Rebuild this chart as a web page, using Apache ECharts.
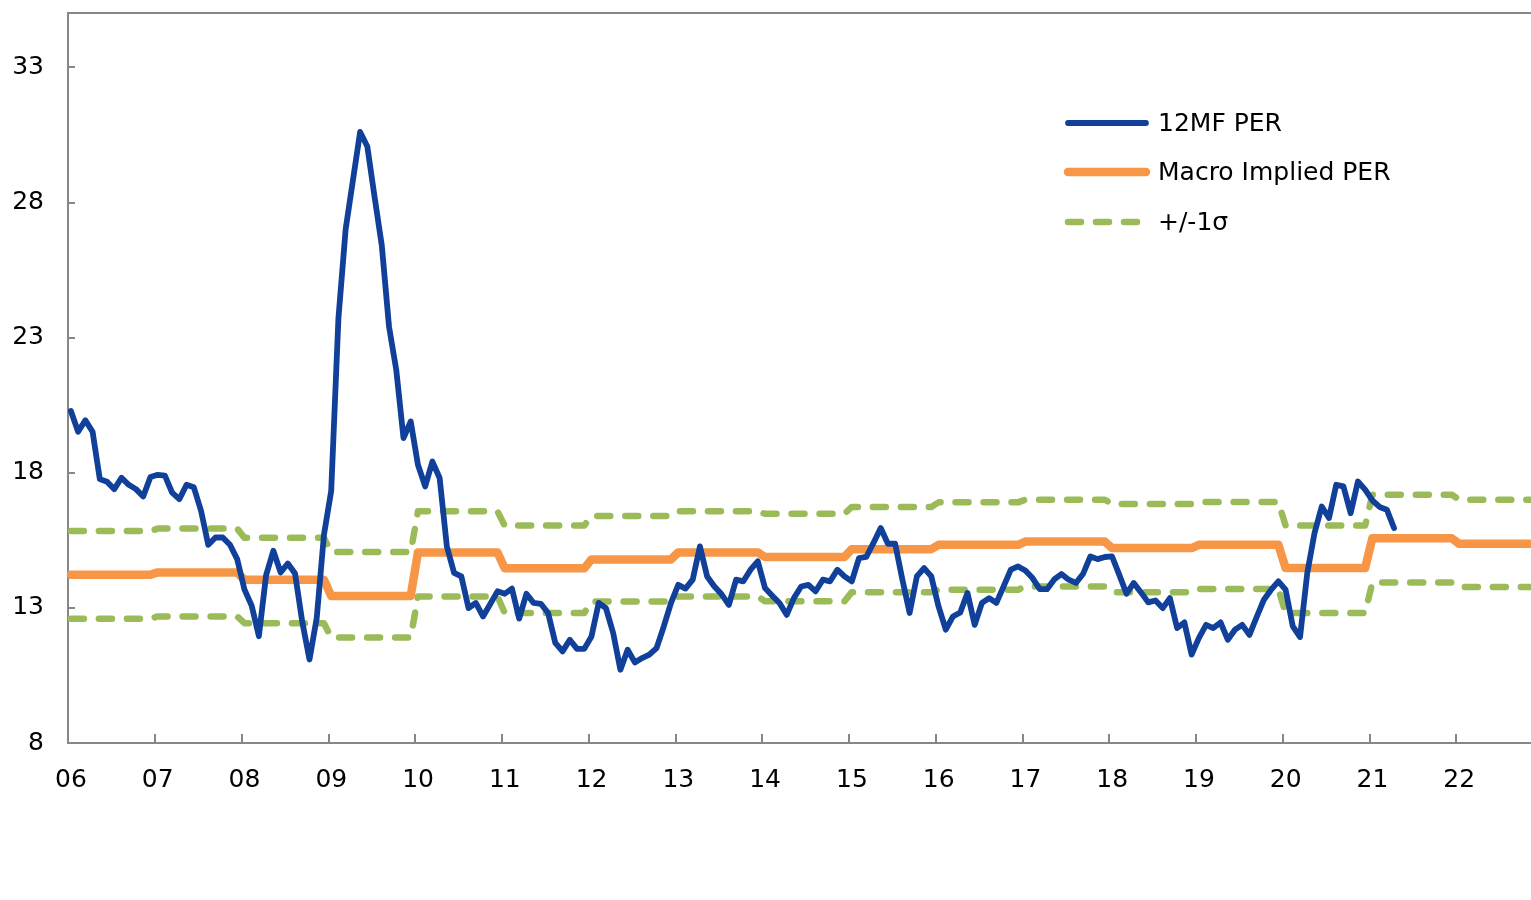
<!DOCTYPE html>
<html>
<head>
<meta charset="utf-8">
<title>12MF PER vs Macro Implied PER</title>
<script src="https://cdn.jsdelivr.net/npm/echarts@6/dist/echarts.min.js"></script>
<style>
  html, body { margin: 0; padding: 0; background: #ffffff; }
  #chart { width: 1531px; height: 900px; }
</style>
</head>
<body>
<div id="chart"></div>
<script>
// Monthly 12-month-forward PER, Jan 2006 onward
const perValues = [
  20.28, 19.51, 19.94, 19.51, 17.76, 17.66, 17.39, 17.81, 17.55, 17.39, 17.12, 17.84,
  17.92, 17.89, 17.26, 17.02, 17.55, 17.46, 16.59, 15.33, 15.60, 15.60, 15.33, 14.80,
  13.68, 13.08, 11.95, 14.21, 15.11, 14.31, 14.64, 14.27, 12.48, 11.09, 12.62, 15.70,
  17.32, 23.70, 27.00, 28.80, 30.60, 30.06, 28.20, 26.40, 23.40, 21.80, 19.28, 19.89,
  18.29, 17.49, 18.41, 17.80, 15.27, 14.29, 14.16, 12.99, 13.18, 12.68, 13.14, 13.61,
  13.52, 13.71, 12.60, 13.52, 13.18, 13.15, 12.81, 11.70, 11.39, 11.82, 11.48, 11.48,
  11.94, 13.18, 12.99, 12.07, 10.71, 11.45, 10.98, 11.14, 11.27, 11.51, 12.31, 13.18,
  13.85, 13.71, 14.04, 15.27, 14.16, 13.79, 13.50, 13.11, 14.04, 13.98, 14.41, 14.72,
  13.73, 13.45, 13.18, 12.74, 13.36, 13.79, 13.85, 13.61, 14.04, 13.98, 14.41, 14.16,
  13.98, 14.84, 14.88, 15.40, 15.95, 15.37, 15.37, 14.04, 12.81, 14.16, 14.47, 14.16,
  13.05, 12.19, 12.68, 12.83, 13.55, 12.37, 13.18, 13.36, 13.18, 13.79, 14.41, 14.53,
  14.38, 14.10, 13.69, 13.69, 14.05, 14.25, 14.04, 13.92, 14.26, 14.90, 14.80, 14.88,
  14.90, 14.22, 13.52, 13.92, 13.57, 13.20, 13.27, 12.99, 13.36, 12.25, 12.46, 11.27,
  11.88, 12.37, 12.25, 12.46, 11.82, 12.19, 12.37, 12.00, 12.66, 13.30, 13.67, 13.98,
  13.67, 12.31, 11.92, 14.29, 15.77, 16.75, 16.32, 17.55, 17.49, 16.50, 17.67, 17.37,
  16.97, 16.73, 16.63, 15.95
];

// Annual levels (held constant through each calendar year)
const years = [2006, 2007, 2008, 2009, 2010, 2011, 2012, 2013, 2014, 2015, 2016, 2017, 2018, 2019, 2020, 2021, 2022];
const macroImplied = [14.22, 14.31, 14.04, 13.44, 15.05, 14.46, 14.79, 15.05, 14.88, 15.17, 15.33, 15.45, 15.21, 15.33, 14.47, 15.57, 15.37];
const upperBand    = [15.84, 15.93, 15.59, 15.06, 16.57, 16.04, 16.40, 16.57, 16.48, 16.73, 16.90, 17.00, 16.84, 16.91, 16.04, 17.18, 17.00];
const lowerBand    = [12.60, 12.68, 12.43, 11.90, 13.42, 12.81, 13.23, 13.42, 13.24, 13.58, 13.67, 13.79, 13.58, 13.70, 12.81, 13.94, 13.77];

// Legend entries
const legendNames = ['12MF PER', 'Macro Implied PER', '+/-1σ'];

// Axis tick labels are the two-digit year
const yearLabel = v => String(v).slice(2);

const FONT = '"DejaVu Sans", Verdana, sans-serif';
const AXIS_GREY = '#878787';
const BLUE = '#10409A';
const ORANGE = '#F79646';
const GREEN = '#9BBB59';

// Position of month k (0 = Jan 2006) on the decimal-year axis
const monthX = k => 2006 + (k + 0.4) / 12;

const perData = perValues.map((v, k) => [monthX(k), v]);

// Each annual level spans January to December of its year
function annualSteps(levels) {
  const out = [];
  years.forEach((y, i) => {
    const k0 = (y - 2006) * 12;
    out.push([monthX(k0), levels[i]]);
    out.push([monthX(k0 + 11), levels[i]]);
  });
  return out;
}

const blueStyle = { color: BLUE, width: 5.8, cap: 'round', join: 'round' };
const orangeStyle = { color: ORANGE, width: 8.5, cap: 'round', join: 'round' };
const bandStyle = { color: GREEN, width: 6.5, type: [13, 15], cap: 'round', join: 'round' };

// Legend drawn as graphic elements: a line sample and a label per row
function legendRow(name, style, y) {
  return [
    {
      type: 'line',
      shape: { x1: 1068, y1: y, x2: style.type ? 1142 : 1146, y2: y },
      style: {
        stroke: style.color,
        lineWidth: style.width,
        lineCap: 'round',
        lineDash: style.type || null
      }
    },
    {
      type: 'text',
      x: 1158, y: y + 1,
      style: {
        text: name,
        fontFamily: FONT, fontSize: 25, fill: '#000000',
        verticalAlign: 'middle', align: 'left'
      }
    }
  ];
}

const chart = echarts.init(document.getElementById('chart'), null, { renderer: 'canvas' });

chart.setOption({
  animation: false,
  backgroundColor: '#ffffff',
  grid: {
    left: 68, top: 13, bottom: 157, width: 1475,
    outerBoundsMode: 'none',
    containLabel: false,
    show: true, borderColor: AXIS_GREY, borderWidth: 2, backgroundColor: 'transparent'
  },
  graphic: [].concat(
    legendRow(legendNames[0], blueStyle, 123),
    legendRow(legendNames[1], orangeStyle, 172),
    legendRow(legendNames[2], bandStyle, 222)
  ),
  xAxis: {
    type: 'value',
    min: 2006, max: 2023, interval: 1,
    axisLine: { show: true, onZero: false, lineStyle: { color: AXIS_GREY, width: 2 } },
    axisTick: { show: true, inside: true, length: 9, lineStyle: { color: AXIS_GREY, width: 2 } },
    axisLabel: {
      formatter: yearLabel, margin: 25, padding: [0, 0, 0, 6],
      fontFamily: FONT, fontSize: 25, color: '#000000', showMaxLabel: false
    },
    splitLine: { show: false }
  },
  yAxis: {
    type: 'value',
    min: 8, max: 35, interval: 5,
    axisLine: { show: true, lineStyle: { color: AXIS_GREY, width: 2 } },
    axisTick: { show: true, inside: true, length: 7, lineStyle: { color: AXIS_GREY, width: 2 } },
    axisLabel: { margin: 24, fontFamily: FONT, fontSize: 25, color: '#000000', showMaxLabel: false },
    splitLine: { show: false }
  },
  series: [
    {
      name: legendNames[2], type: 'line', data: annualSteps(upperBand),
      symbol: 'none', lineStyle: bandStyle, itemStyle: { color: GREEN }, z: 2
    },
    {
      name: legendNames[2], type: 'line', data: annualSteps(lowerBand),
      symbol: 'none', lineStyle: bandStyle, itemStyle: { color: GREEN }, z: 2
    },
    {
      name: legendNames[1], type: 'line', data: annualSteps(macroImplied),
      symbol: 'none', lineStyle: orangeStyle, itemStyle: { color: ORANGE }, z: 3
    },
    {
      name: legendNames[0], type: 'line', data: perData,
      symbol: 'none', lineStyle: blueStyle, itemStyle: { color: BLUE }, z: 4
    }
  ]
});
</script>
</body>
</html>
